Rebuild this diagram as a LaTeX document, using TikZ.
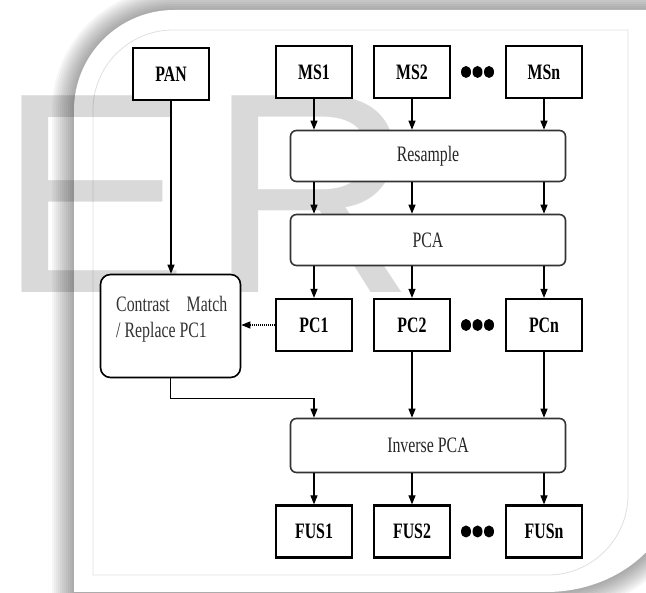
\documentclass[tikz,border=0pt]{standalone}
\usepackage{fontspec}
\setmainfont{Liberation Serif}
\newfontfamily\boxfont[FakeStretch=0.72]{Liberation Serif}
\newfontfamily\markfont{Liberation Sans}
\usetikzlibrary{arrows.meta,positioning,calc}

\newcommand{\framepath}{(74,592) -- (74,110) .. controls (74,55) and (119,10) .. (174,10) -- (680,10) -- (680,470) .. controls (680,540) and (620,592) .. (546,592) -- cycle}

\begin{document}
\begin{tikzpicture}[x=1pt, y=-1pt, >={Triangle[length=9pt,width=7pt]},
	sq box/.style={rectangle,draw,line width=2.2pt,fill=white,inner sep=0pt,
		minimum width=76pt,minimum height=52pt,
		font=\boxfont\fontsize{22}{26}\selectfont\bfseries},
	round box/.style={rectangle,draw=black!80,line width=1.6pt,rounded corners=6pt,
		fill=white,text=black!85,minimum width=275pt,minimum height=51pt,
		font=\boxfont\fontsize{22}{26}\selectfont},
	mark letter/.style={inner sep=0pt,anchor=base west,text=black,text opacity=0.15,
		font=\markfont\fontsize{286}{286}\selectfont},
	link/.style={->,line width=1.1pt}]

	\useasboundingbox (0,0) rectangle (646,593);
	\clip (0,0) rectangle (646,593);

	% frame with soft shadow
	\foreach \w in {4,8,...,44}
		\draw[line width=\w pt, black, opacity=0.035, line join=round] \framepath;
	\fill[white] \framepath;
	\draw[black!12, line width=0.8pt] (93,575) -- (93,110) .. controls (93,66) and (129,30) .. (173,30)
		-- (628,30) -- (628,495) .. controls (628,539) and (592,575) .. (548,575) -- cycle;

	% watermark
	\node[mark letter] (we) at (-2,293) {E};
	\node[mark letter] (wr) at (208,293) {R};

	% inputs
	\node[sq box] (pan) at (171,74) {PAN};
	\node[sq box] (ms1) at (314,72) {MS1};
	\node[sq box] (ms2) at (412,72) {MS2};
	\node[sq box] (msn) at (544,72) {MSn};

	\node[round box] (rs) at (428,156) {Resample};
	\node[round box] (pca) at (428,240) {PCA};

	\node[sq box] (pc1) [below=253pt of ms1.center, anchor=center] {PC1};
	\node[sq box] (pc2) [below=253pt of ms2.center, anchor=center] {PC2};
	\node[sq box] (pcn) [below=253pt of msn.center, anchor=center] {PCn};

	\node[draw,line width=1.6pt,rounded corners=10pt,fill=white,
		minimum width=140pt,minimum height=103pt] (cm) at (170.5,326) {};
	\node[inner sep=0pt,anchor=north west,text width=111pt,align=left,text=black!80,
		font=\boxfont\fontsize{22}{26}\selectfont] (cmtext) at (116,296)
		{Contrast\hfill Match\\/\hspace{4pt}Replace\hspace{4pt}PC1};

	\node[round box, minimum height=54pt] (inv) at (428,445.5) {Inverse\hspace{4pt}PCA};

	\node[sq box] (fus1) [below=206.5pt of pc1.center, anchor=center] {FUS1};
	\node[sq box] (fus2) [below=206.5pt of pc2.center, anchor=center] {FUS2};
	\node[sq box] (fusn) [below=206.5pt of pcn.center, anchor=center] {FUSn};

	% dots
	\foreach \y in {72,325,531.5}
		\foreach \x in {466,477.5,489}
			\fill (\x,\y) ellipse [x radius=5pt, y radius=6pt];

	% connectors
	\foreach \c in {1,2,n} {
		\draw[link] (ms\c) -- (ms\c |- rs.north);
		\draw[link] (ms\c |- rs.south) -- (ms\c |- pca.north);
		\draw[link] (ms\c |- pca.south) -- (pc\c);
		\draw[link] (inv.south -| fus\c) -- (fus\c);
	}
	\draw[link] (pan) -- (pan |- cm.north);
	\draw[link, dash pattern=on 1pt off 1pt] (pc1.west) -- (pc1.west -| cm.east);
	\draw[link] (cm.south) -- ++(0,20) -| (pc1 |- inv.north);
	\draw[link] (pc2) -- (pc2 |- inv.north);
	\draw[link] (pcn) -- (pcn |- inv.north);
\end{tikzpicture}
\end{document}
